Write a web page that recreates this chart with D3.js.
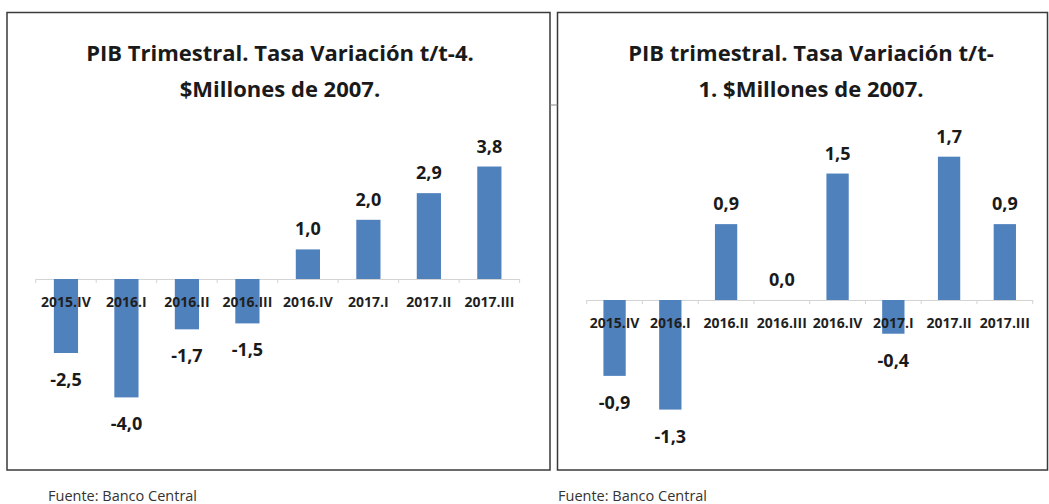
<!DOCTYPE html>
<html>
<head>
<meta charset="utf-8">
<script src="https://cdn.jsdelivr.net/npm/d3@7"></script>
<style>
  body { margin: 0; background: #fff; }
  text { font-family: "Open Sans", "Liberation Sans", sans-serif; }
</style>
</head>
<body>
<div id="plot"></div>
<script>
// data
const categories = ["2015.IV", "2016.I", "2016.II", "2016.III", "2016.IV", "2017.I", "2017.II", "2017.III"];
const yoyValues = [-2.5, -4.0, -1.7, -1.5, 1.0, 2.0, 2.9, 3.8];
const qoqValues = [-0.9, -1.3, 0.9, 0.0, 1.5, -0.4, 1.7, 0.9];
const yoyTitle = ["PIB Trimestral. Tasa Variación t/t-4.", "$Millones de 2007."];
const qoqTitle = ["PIB trimestral. Tasa Variación t/t-", "1. $Millones de 2007."];
const sourceText = "Fuente: Banco Central";

const W = 1049, H = 504;
const barColor = "#4f81bd";

// comma decimals, hyphen minus
const locale = d3.formatLocale({ decimal: ",", thousands: ".", grouping: [3], currency: ["$", ""], minus: "-" });
const fmt = locale.format(".1f");

const svg = d3.select("#plot").append("svg")
  .attr("width", W)
  .attr("height", H);

svg.append("rect").attr("width", W).attr("height", H).attr("fill", "#fff");

// panel layouts
const panels = [
  { values: yoyValues, title: yoyTitle,
    box: [7, 12.5, 550, 470], x0: 35.7, x1: 519.6, zero: 279, pxPerUnit: 29.6,
    titleX: 280, sourceX: 48 },
  { values: qoqValues, title: qoqTitle,
    box: [557.5, 12.5, 1047.5, 470], x0: 586.7, x1: 1032.7, zero: 300, pxPerUnit: 84.3,
    titleX: 811, sourceX: 558 }
];

function drawPanel(p) {
  const g = svg.append("g");

  // frame
  g.append("rect")
    .attr("x", p.box[0])
    .attr("y", p.box[1])
    .attr("width", p.box[2] - p.box[0])
    .attr("height", p.box[3] - p.box[1])
    .attr("fill", "none")
    .attr("stroke", "#3a3a3a")
    .attr("stroke-width", 1.5);

  // title
  const t = g.append("text")
    .attr("x", p.titleX)
    .attr("text-anchor", "middle")
    .attr("font-size", 22)
    .attr("font-weight", "bold")
    .attr("fill", "#1a1a1a");
  p.title.forEach((line, i) => {
    t.append("tspan").attr("x", p.titleX).attr("y", 61 + i * 36).text(line);
  });

  const x = d3.scaleBand()
    .domain(categories)
    .range([p.x0, p.x1])
    .paddingInner(0.6)
    .paddingOuter(0.3);

  const span = 5;
  const y = d3.scaleLinear()
    .domain([-span, span])
    .range([p.zero + span * p.pxPerUnit, p.zero - span * p.pxPerUnit]);

  // category axis at zero
  const axis = g.append("g")
    .attr("transform", "translate(0," + y(0) + ")")
    .call(d3.axisBottom(x).tickSize(0).tickFormat(""));
  axis.select(".domain").attr("stroke", "#d4d4d4").attr("stroke-width", 1.2);

  // small tick marks between categories
  const step = x.step();
  g.selectAll(".sep")
    .data(d3.range(categories.length + 1))
    .enter().append("line")
    .attr("x1", i => p.x0 + i * step)
    .attr("x2", i => p.x0 + i * step)
    .attr("y1", y(0))
    .attr("y2", y(0) + 4)
    .attr("stroke", "#d4d4d4");

  // bars
  g.selectAll(".bar")
    .data(p.values)
    .enter().append("rect")
    .attr("class", "bar")
    .attr("x", (d, i) => x(categories[i]))
    .attr("width", x.bandwidth())
    .attr("y", d => y(Math.max(0, d)))
    .attr("height", d => Math.abs(y(d) - y(0)))
    .attr("fill", barColor);

  // category labels (drawn over bars)
  g.selectAll(".cat")
    .data(categories)
    .enter().append("text")
    .attr("x", d => x(d) + x.bandwidth() / 2)
    .attr("y", y(0) + 28)
    .attr("text-anchor", "middle")
    .attr("font-size", 14)
    .attr("font-weight", "bold")
    .attr("fill", "#1f1f1f")
    .text(d => d);

  // value labels
  g.selectAll(".val")
    .data(p.values)
    .enter().append("text")
    .attr("x", (d, i) => x(categories[i]) + x.bandwidth() / 2)
    .attr("y", d => d >= 0 ? y(d) - 14 : y(d) + 33)
    .attr("text-anchor", "middle")
    .attr("font-size", 18)
    .attr("font-weight", "bold")
    .attr("fill", "#1a1a1a")
    .text(d => fmt(d));

  // source note
  svg.append("text")
    .attr("x", p.sourceX)
    .attr("y", 501)
    .attr("font-size", 14.5)
    .attr("fill", "#333")
    .text(sourceText);
}

panels.forEach(drawPanel);

// little connector stub between the two frames
svg.append("line")
  .attr("x1", 550).attr("x2", 557.5)
  .attr("y1", 105).attr("y2", 105)
  .attr("stroke", "#888");
</script>
</body>
</html>
